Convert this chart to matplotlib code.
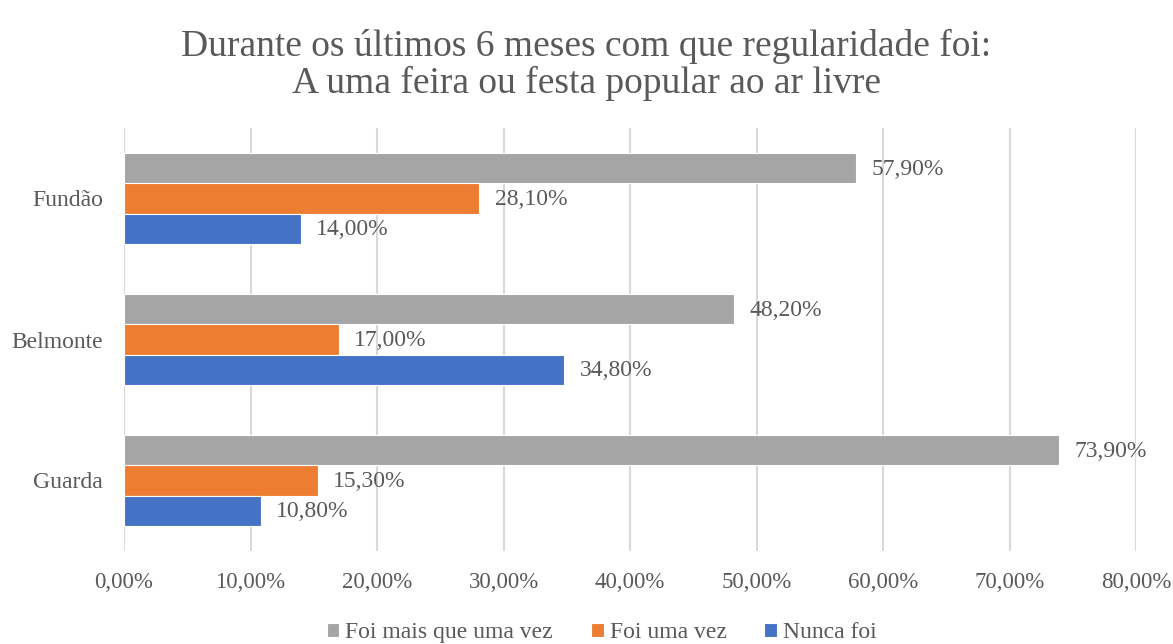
import matplotlib.pyplot as plt
import numpy as np

plt.rcParams['font.family'] = ['Liberation Serif', 'DejaVu Serif']

# categories listed bottom -> top as drawn
categories = ['Guarda', 'Belmonte', 'Fundão']
series_names = ['Foi mais que uma vez', 'Foi uma vez', 'Nunca foi']
mais_que_uma = [73.9, 48.2, 57.9]
uma_vez = [15.3, 17.0, 28.1]
nunca = [10.8, 34.8, 14.0]
xticks = [0, 10, 20, 30, 40, 50, 60, 70, 80]

colors = ['#A5A5A5', '#ED7D31', '#4472C4']
txt = '#595959'

fig = plt.figure(figsize=(11.73, 6.44), dpi=100)
ax = fig.add_axes([124 / 1173, 1 - 551 / 644, (1136 - 124) / 1173, (551 - 128) / 644])

y = np.arange(len(categories))
h = 0.213
offsets = [h, 0, -h]
for vals, off, col, name in zip([mais_que_uma, uma_vez, nunca], offsets, colors, series_names):
    bars = ax.barh(y + off, vals, height=h, color=col, edgecolor='white', linewidth=0.8,
                   label=name, zorder=3)
    for b, v in zip(bars, vals):
        ax.annotate(f'{v:.2f}%'.replace('.', ','), (v, b.get_y() + b.get_height() / 2),
                    xytext=(11, -1), textcoords='offset points', va='center', ha='left',
                    fontsize=17, color=txt)

ax.set_xlim(0, 80)
ax.set_ylim(-0.5, 2.5)
ax.set_xticks(xticks)
ax.set_xticklabels([f'{t:.2f}%'.replace('.', ',') for t in xticks], fontsize=16.5, color=txt)
ax.set_yticks(y)
ax.set_yticklabels(categories, fontsize=17, color=txt)
ax.tick_params(axis='x', length=0, pad=15)
ax.tick_params(axis='y', length=0, pad=15)
ax.grid(axis='x', color='#D9D9D9', linewidth=1.5, zorder=0)
for s in ax.spines.values():
    s.set_visible(False)

fig.suptitle('Durante os últimos 6 meses com que regularidade foi:\nA uma feira ou festa popular ao ar livre',
             fontsize=27, color=txt, y=0.955, linespacing=1.05)

fig.legend(loc='lower center', bbox_to_anchor=(0.513, -0.032), ncol=3, frameon=False,
           fontsize=17, handlelength=0.55, handleheight=0.55, handletextpad=0.25,
           columnspacing=1.6, labelcolor=txt)

fig.savefig('out.png', dpi=100)
